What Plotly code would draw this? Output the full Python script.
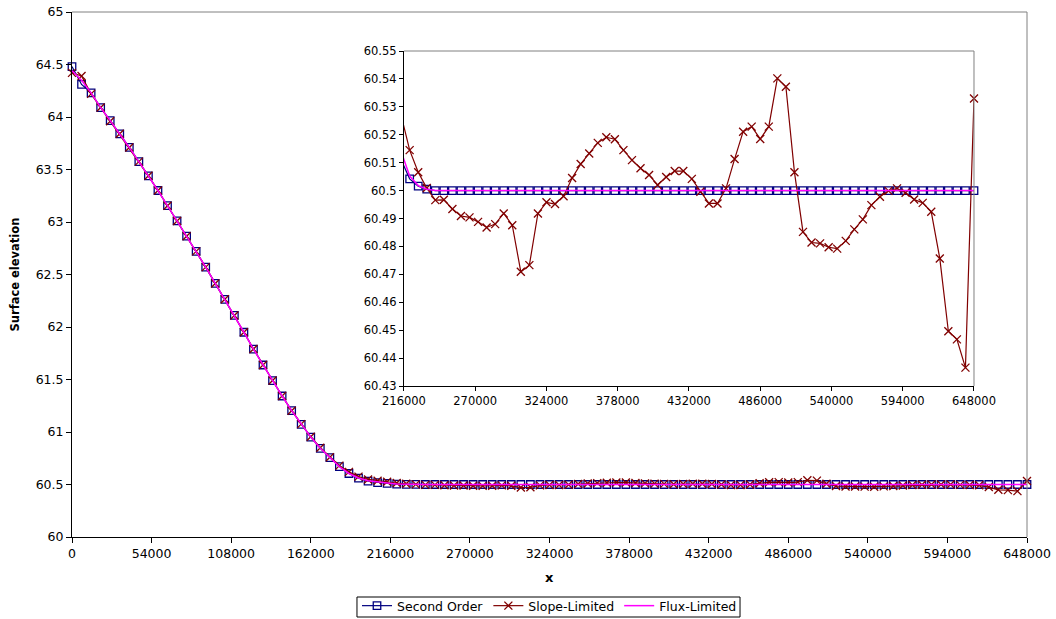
import plotly.graph_objects as go

# Grid nodes along the channel (m)
x_nodes = list(range(0, 648001, 6480))

second_order = [
    64.48, 64.31, 64.23, 64.09, 63.965, 63.84, 63.71, 63.575, 63.44, 63.30,
    63.155, 63.01, 62.865, 62.72, 62.57, 62.416, 62.264, 62.11, 61.95, 61.79,
    61.638, 61.49, 61.343, 61.203, 61.073, 60.952, 60.845, 60.755, 60.67, 60.605,
    60.56, 60.532, 60.518, 60.511, 60.5042, 60.5016, 60.5005, 60.5, 60.5, 60.5,
    60.5, 60.5, 60.5, 60.5, 60.5, 60.5, 60.5, 60.5, 60.5, 60.5,
    60.5, 60.5, 60.5, 60.5, 60.5, 60.5, 60.5, 60.5, 60.5, 60.5,
    60.5, 60.5, 60.5, 60.5, 60.5, 60.5, 60.5, 60.5, 60.5, 60.5,
    60.5, 60.5, 60.5, 60.5, 60.5, 60.5, 60.5, 60.5, 60.5, 60.5,
    60.5, 60.5, 60.5, 60.5, 60.5, 60.5, 60.5, 60.5, 60.5, 60.5,
    60.5, 60.5, 60.5, 60.5, 60.5, 60.5, 60.5, 60.5, 60.5, 60.5,
    60.5,
]

slope_limited = [
    64.42, 64.39, 64.22, 64.09, 63.96, 63.84, 63.71, 63.575, 63.44, 63.30,
    63.155, 63.01, 62.865, 62.72, 62.57, 62.415, 62.264, 62.11, 61.95, 61.79,
    61.638, 61.49, 61.343, 61.203, 61.075, 60.955, 60.85, 60.76, 60.68, 60.62,
    60.575, 60.548, 60.535, 60.527, 60.5145, 60.5066, 60.5009, 60.4966, 60.4967, 60.4934,
    60.4909, 60.4904, 60.4888, 60.4868, 60.4880, 60.4918, 60.4876, 60.4709, 60.4733, 60.4918,
    60.4958, 60.4952, 60.4980, 60.5045, 60.5095, 60.5133, 60.5171, 60.5191, 60.5184, 60.5145,
    60.5109, 60.5080, 60.5056, 60.5020, 60.5049, 60.5070, 60.5070, 60.5042, 60.4996, 60.4954,
    60.4954, 60.5008, 60.5113, 60.5211, 60.5229, 60.5185, 60.5229, 60.5402, 60.5372, 60.5066,
    60.4852, 60.4814, 60.4811, 60.4797, 60.4792, 60.4820, 60.4861, 60.4897, 60.4948, 60.4978,
    60.4999, 60.5008, 60.4992, 60.4968, 60.4956, 60.4924, 60.4757, 60.4496, 60.4467, 60.4366,
    60.5330,
]

flux_limited = [
    64.44, 64.35, 64.23, 64.09, 63.965, 63.84, 63.71, 63.575, 63.44, 63.30,
    63.155, 63.01, 62.865, 62.72, 62.57, 62.416, 62.264, 62.11, 61.95, 61.79,
    61.638, 61.49, 61.343, 61.203, 61.073, 60.952, 60.845, 60.755, 60.67, 60.605,
    60.562, 60.535, 60.521, 60.514, 60.5052, 60.5018, 60.5005, 60.5, 60.5, 60.5,
    60.5, 60.5, 60.5, 60.5, 60.5, 60.5, 60.5, 60.5, 60.5, 60.5,
    60.5, 60.5, 60.5, 60.5, 60.5, 60.5, 60.5, 60.5, 60.5, 60.5,
    60.5, 60.5, 60.5, 60.5, 60.5, 60.5, 60.5, 60.5, 60.5, 60.5,
    60.5, 60.5, 60.5, 60.5, 60.5, 60.5, 60.5, 60.5, 60.5, 60.5,
    60.5, 60.5, 60.5, 60.5, 60.5, 60.5, 60.5, 60.5, 60.5, 60.5,
    60.5, 60.5, 60.5, 60.5, 60.5, 60.5, 60.5, 60.5, 60.5, 60.5,
    60.5,
]

main_x_ticks = [0, 54000, 108000, 162000, 216000, 270000, 324000,
                378000, 432000, 486000, 540000, 594000, 648000]
main_y_ticks = [60, 60.5, 61, 61.5, 62, 62.5, 63, 63.5, 64, 64.5, 65]
main_y_labels = ["60", "60.5", "61", "61.5", "62", "62.5", "63", "63.5", "64", "64.5", "65"]
inset_x_ticks = [216000, 270000, 324000, 378000, 432000, 486000, 540000, 594000, 648000]
inset_y_ticks = [60.43, 60.44, 60.45, 60.46, 60.47, 60.48, 60.49, 60.5, 60.51,
                 60.52, 60.53, 60.54, 60.55]
inset_y_labels = ["60.43", "60.44", "60.45", "60.46", "60.47", "60.48", "60.49", "60.5",
                  "60.51", "60.52", "60.53", "60.54", "60.55"]

INSET_X0 = 216000
FONT = "DejaVu Sans"
NAVY = "#000080"
DARKRED = "#800000"
MAGENTA = "#FF00FF"

# hide markers that fall left of the inset window (lines are clipped by the axes)
inset_opacity = [1 if xv >= INSET_X0 else 0 for xv in x_nodes]

fig = go.Figure()

series = [
    ("Second Order", second_order, NAVY, "lines+markers",
     dict(symbol="square-open", size=7.5, color=NAVY, line=dict(width=1.3, color=NAVY)), 1.2),
    ("Slope-Limited", slope_limited, DARKRED, "lines+markers",
     dict(symbol="x-thin", size=8, color=DARKRED, line=dict(width=1.3, color=DARKRED)), 1.2),
    ("Flux-Limited", flux_limited, MAGENTA, "lines", None, 1.5),
]

for name, vals, col, mode, mk, lw in series:
    kw = dict(marker=mk) if mk else {}
    fig.add_trace(go.Scatter(
        x=x_nodes, y=vals, name=name, mode=mode,
        line=dict(color=col, width=lw), cliponaxis=False,
        xaxis="x", yaxis="y", **kw))

for name, vals, col, mode, mk, lw in series:
    kw = {}
    if mk:
        mk2 = dict(mk)
        mk2["opacity"] = inset_opacity
        kw = dict(marker=mk2)
    fig.add_trace(go.Scatter(
        x=x_nodes, y=vals, name=name, mode=mode, showlegend=False,
        line=dict(color=col, width=lw), cliponaxis=False,
        xaxis="x2", yaxis="y2", **kw))

axis_common = dict(showgrid=False, zeroline=False, showline=True, linecolor="black",
                   linewidth=1, ticks="outside", tickcolor="black", tickwidth=1,
                   mirror=False, automargin=False)

fig.update_layout(
    width=1056, height=619,
    margin=dict(l=72, r=29, t=12, b=82, autoexpand=False),
    paper_bgcolor="white", plot_bgcolor="white",
    font=dict(family=FONT, color="black"),
    xaxis=dict(range=[0, 648000], tickvals=main_x_ticks,
               ticktext=[str(v) for v in main_x_ticks], ticklen=5,
               tickfont=dict(size=12.5), **axis_common),
    yaxis=dict(range=[60, 65], tickvals=main_y_ticks, ticktext=main_y_labels,
               ticklen=5, tickfont=dict(size=12.5), **axis_common),
    xaxis2=dict(domain=[0.3476, 0.9445], anchor="y2", range=[216000, 648000],
                tickvals=inset_x_ticks, ticktext=[str(v) for v in inset_x_ticks],
                ticklen=4, tickfont=dict(size=11.5), **axis_common),
    yaxis2=dict(domain=[0.2876, 0.9257], anchor="x2", range=[60.43, 60.55],
                tickvals=inset_y_ticks, ticktext=inset_y_labels,
                ticklen=4, tickfont=dict(size=11.5), **axis_common),
    # legend entries without their own frame; the compact box is drawn as a shape
    legend=dict(orientation="h", x=0.5, xanchor="center", y=-0.1029, yanchor="top",
                borderwidth=0, bgcolor="rgba(0,0,0,0)",
                font=dict(size=12.5), itemwidth=30, tracegroupgap=0),
    showlegend=True,
    annotations=[
        dict(text="<b>Surface elevation</b>", textangle=-90, xref="paper", yref="paper",
             x=-0.0597, y=0.5, showarrow=False, font=dict(size=11.5),
             xanchor="center", yanchor="middle"),
        dict(text="<b>x</b>", xref="paper", yref="paper", x=0.5, y=-0.078,
             showarrow=False, font=dict(size=13), xanchor="center", yanchor="middle"),
    ],
    shapes=[
        # plot-area frame (top and right) for the main axes
        dict(type="line", xref="x domain", yref="y domain", x0=0, x1=1, y0=1, y1=1,
             line=dict(color="#808080", width=1)),
        dict(type="line", xref="x domain", yref="y domain", x0=1, x1=1, y0=0, y1=1,
             line=dict(color="#808080", width=1)),
        # same frame for the inset
        dict(type="line", xref="x2 domain", yref="y2 domain", x0=0, x1=1, y0=1, y1=1,
             line=dict(color="#808080", width=1)),
        dict(type="line", xref="x2 domain", yref="y2 domain", x0=1, x1=1, y0=0, y1=1,
             line=dict(color="#808080", width=1)),
        # legend frame
        dict(type="rect", xref="paper", yref="paper", x0=0.2984, x1=0.6995,
             y0=-0.1524, y1=-0.1143, line=dict(color="black", width=1),
             fillcolor="rgba(0,0,0,0)"),
    ],
)

fig.write_html("out.html")
